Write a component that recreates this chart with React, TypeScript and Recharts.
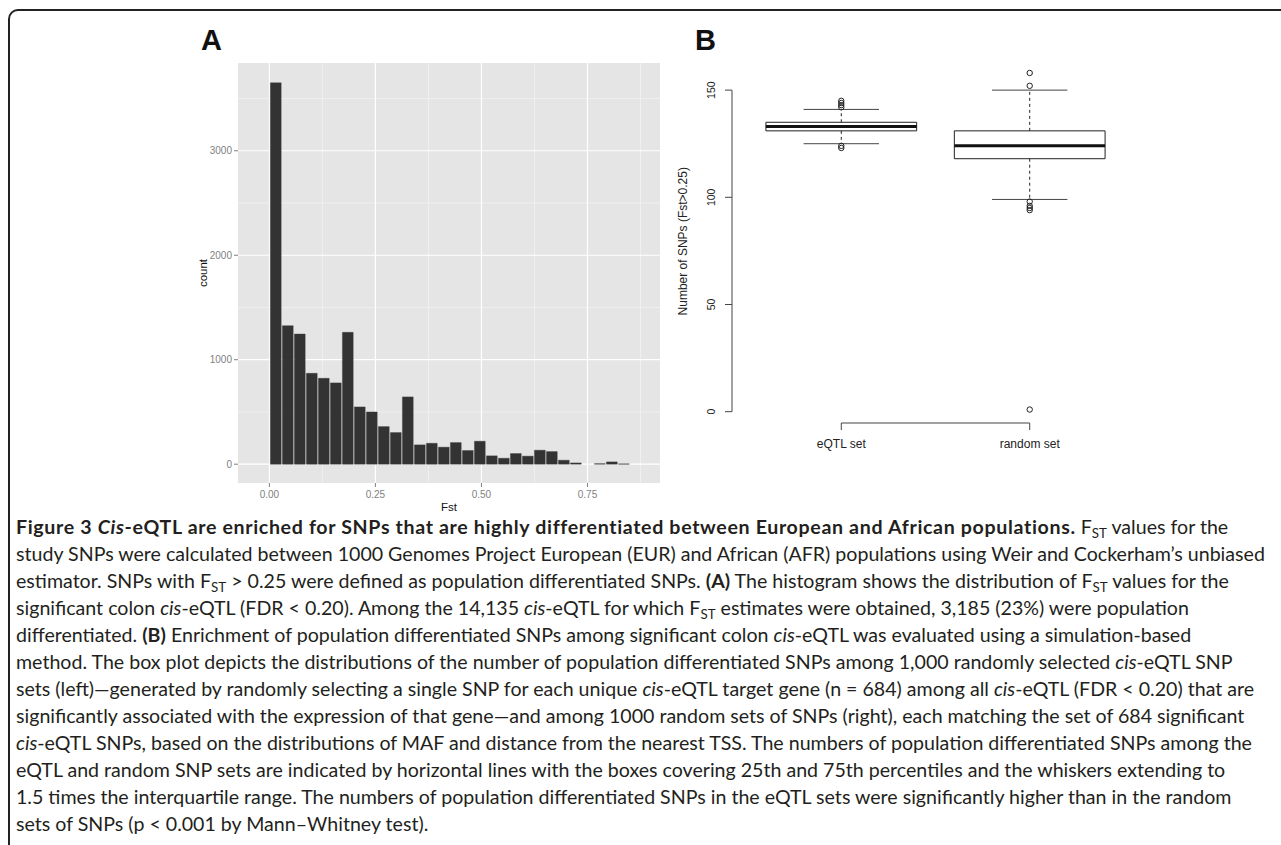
import {
  Bar,
  BarChart,
  CartesianGrid,
  ComposedChart,
  ReferenceArea,
  ReferenceLine,
  Scatter,
  XAxis,
  YAxis,
} from "recharts";

// Panel A: histogram of Fst (30 bins from 0)
const FST_COUNTS = [
  3650, 1326, 1246, 870, 822, 778, 1262, 548, 500, 360, 303, 644, 185, 200, 163,
  207, 131, 220, 80, 57, 102, 77, 134, 121, 38, 12, 0, 5, 22, 3,
];
const BIN_WIDTH = 0.0283;
const FST_TICKS = [0, 0.25, 0.5, 0.75];
const FST_MINOR = [0.125, 0.375, 0.625, 0.875];
const COUNT_TICKS = [0, 1000, 2000, 3000];
const COUNT_MINOR = [500, 1500, 2500, 3500];
const FST_DOMAIN = [-0.074, 0.921];
const COUNT_DOMAIN = [-180, 3840];

// Panel B: box plots of number of SNPs with Fst > 0.25
const GROUPS = ["eQTL set", "random set"];
const GROUP_POS = [1, 2];
const Q1 = [131, 118];
const MEDIAN = [133, 124];
const Q3 = [135, 131];
const WHISKER_LOW = [125, 99];
const WHISKER_HIGH = [141, 150];
const OUTLIERS = [
  [123, 124, 142, 143, 144, 145],
  [1, 94, 95, 96, 98, 152, 158],
];
const SNP_TICKS = [0, 50, 100, 150];
const SNP_DOMAIN = [-5.28, 164.28];
const POS_DOMAIN = [0.42, 2.58];

const histData = FST_COUNTS.map((count, i) => ({ x: (i + 0.5) * BIN_WIDTH, count }));
const outlierData = OUTLIERS.flatMap((vals, g) =>
  vals.map((v) => ({ x: GROUP_POS[g], y: v })),
);

const R_FONT = "Liberation Sans, Arial";
const GG_TICK = { fill: "#7f7f7f", fontSize: 10, fontFamily: R_FONT };

function RotatedTick({ x, y, payload }: any) {
  return (
    <text
      fill="#222"
      fontFamily={R_FONT}
      fontSize={10.5}
      textAnchor="middle"
      transform={`rotate(-90 ${x} ${y})`}
      x={x}
      y={y}
    >
      {payload.value}
    </text>
  );
}

function OpenCircle({ cx, cy }: any) {
  return <circle cx={cx} cy={cy} fill="none" r={2.7} stroke="#222" strokeWidth={1} />;
}

function Histogram() {
  const plotWidth = 422;
  const barSize = (BIN_WIDTH * plotWidth) / (FST_DOMAIN[1] - FST_DOMAIN[0]);
  return (
    <BarChart
      data={histData}
      height={499}
      margin={{ top: 43, right: 0, bottom: 0, left: 0 }}
      width={480}
    >
      <CartesianGrid
        fill="#e5e5e5"
        horizontalValues={COUNT_MINOR}
        stroke="#f2f2f2"
        strokeWidth={0.8}
        verticalValues={FST_MINOR}
      />
      <CartesianGrid
        horizontalValues={COUNT_TICKS}
        stroke="#ffffff"
        strokeWidth={1.2}
        verticalValues={FST_TICKS}
      />
      <XAxis
        allowDataOverflow
        axisLine={false}
        dataKey="x"
        domain={FST_DOMAIN}
        height={36}
        label={{
          value: "Fst",
          position: "insideBottom",
          offset: 8,
          fill: "#111",
          fontSize: 11.5,
          fontFamily: R_FONT,
        }}
        tick={GG_TICK}
        tickFormatter={(v: number) => v.toFixed(2)}
        tickLine={{ stroke: "#7f7f7f" }}
        tickMargin={3.5}
        tickSize={4}
        ticks={FST_TICKS}
        type="number"
      />
      <YAxis
        allowDataOverflow
        axisLine={false}
        domain={COUNT_DOMAIN}
        label={{
          value: "count",
          angle: -90,
          position: "insideLeft",
          offset: 23,
          fill: "#111",
          fontSize: 11.5,
          fontFamily: R_FONT,
          style: { textAnchor: "middle" },
        }}
        tick={GG_TICK}
        tickLine={{ stroke: "#7f7f7f" }}
        tickMargin={2}
        tickSize={4}
        ticks={COUNT_TICKS}
        type="number"
        width={58}
      />
      <Bar
        barSize={barSize}
        dataKey="count"
        fill="#333333"
        isAnimationActive={false}
        stroke="#3c3c3c"
        strokeWidth={0.4}
      />
    </BarChart>
  );
}

function BoxPlot() {
  return (
    <ComposedChart
      height={458}
      margin={{ top: 59.5, right: 20, bottom: 0, left: 0 }}
      width={499}
    >
      <XAxis
        allowDataOverflow
        axisLine={false}
        dataKey="x"
        domain={POS_DOMAIN}
        height={35}
        tick={{ fill: "#222", fontSize: 12, fontFamily: R_FONT }}
        tickFormatter={(v: number) => GROUPS[GROUP_POS.indexOf(v)] ?? ""}
        tickLine={{ stroke: "#444" }}
        tickMargin={9}
        tickSize={7}
        ticks={GROUP_POS}
        type="number"
      />
      <YAxis
        allowDataOverflow
        axisLine={false}
        dataKey="y"
        domain={SNP_DOMAIN}
        label={{
          value: "Number of SNPs (Fst>0.25)",
          angle: -90,
          position: "insideLeft",
          offset: 23,
          fill: "#222",
          fontSize: 12,
          fontFamily: R_FONT,
          style: { textAnchor: "middle" },
        }}
        tick={<RotatedTick />}
        tickLine={{ stroke: "#444" }}
        tickMargin={10}
        tickSize={7}
        ticks={SNP_TICKS}
        type="number"
        width={72}
      />
      {/* R-style axis lines: only over the tick range */}
      <ReferenceLine
        ifOverflow="visible"
        segment={[
          { x: POS_DOMAIN[0], y: SNP_TICKS[0] },
          { x: POS_DOMAIN[0], y: SNP_TICKS[SNP_TICKS.length - 1] },
        ]}
        stroke="#444"
        strokeWidth={1}
      />
      <ReferenceLine
        ifOverflow="visible"
        segment={[
          { x: GROUP_POS[0], y: SNP_DOMAIN[0] },
          { x: GROUP_POS[GROUP_POS.length - 1], y: SNP_DOMAIN[0] },
        ]}
        stroke="#444"
        strokeWidth={1}
      />
      {GROUP_POS.map((p, i) => (
        <ReferenceLine
          key={`wu-${i}`}
          segment={[
            { x: p, y: Q3[i] },
            { x: p, y: WHISKER_HIGH[i] },
          ]}
          stroke="#222"
          strokeDasharray="3 3"
        />
      ))}
      {GROUP_POS.map((p, i) => (
        <ReferenceLine
          key={`wl-${i}`}
          segment={[
            { x: p, y: Q1[i] },
            { x: p, y: WHISKER_LOW[i] },
          ]}
          stroke="#222"
          strokeDasharray="3 3"
        />
      ))}
      {GROUP_POS.map((p, i) => (
        <ReferenceLine
          key={`cu-${i}`}
          segment={[
            { x: p - 0.2, y: WHISKER_HIGH[i] },
            { x: p + 0.2, y: WHISKER_HIGH[i] },
          ]}
          stroke="#444"
        />
      ))}
      {GROUP_POS.map((p, i) => (
        <ReferenceLine
          key={`cl-${i}`}
          segment={[
            { x: p - 0.2, y: WHISKER_LOW[i] },
            { x: p + 0.2, y: WHISKER_LOW[i] },
          ]}
          stroke="#444"
        />
      ))}
      {GROUP_POS.map((p, i) => (
        <ReferenceArea
          fill="#ffffff"
          fillOpacity={1}
          key={`box-${i}`}
          stroke="#222"
          strokeWidth={1}
          x1={p - 0.4}
          x2={p + 0.4}
          y1={Q1[i]}
          y2={Q3[i]}
        />
      ))}
      {GROUP_POS.map((p, i) => (
        <ReferenceLine
          key={`med-${i}`}
          segment={[
            { x: p - 0.4, y: MEDIAN[i] },
            { x: p + 0.4, y: MEDIAN[i] },
          ]}
          stroke="#111"
          strokeWidth={3}
        />
      ))}
      <Scatter
        data={outlierData}
        dataKey="y"
        isAnimationActive={false}
        shape={<OpenCircle />}
      />
    </ComposedChart>
  );
}

const Fst = () => (
  <>
    F<sub style={{ fontSize: "0.68em", verticalAlign: "-0.3em", lineHeight: 0 }}>ST</sub>
  </>
);

const PANEL_LETTER = {
  position: "absolute" as const,
  top: 26,
  fontSize: 29,
  lineHeight: 1,
  fontWeight: 700,
  color: "#111",
};

export default function App() {
  return (
    <div
      style={{
        position: "absolute",
        left: 0,
        top: 0,
        width: 1281,
        height: 845,
        overflow: "hidden",
        background: "#fff",
        fontFamily: "Liberation Sans, Arial, sans-serif",
      }}
    >
      <div
        style={{
          position: "absolute",
          left: 8,
          top: 9,
          width: 1320,
          height: 900,
          border: "2px solid #222",
          borderTopLeftRadius: 10,
        }}
      />
      <div style={{ position: "absolute", left: 180, top: 20 }}>
        <Histogram />
      </div>
      <div style={{ position: "absolute", left: 660, top: 0 }}>
        <BoxPlot />
      </div>
      <div style={{ ...PANEL_LETTER, left: 201 }}>A</div>
      <div style={{ ...PANEL_LETTER, left: 695 }}>B</div>
      <div
        style={{
          position: "absolute",
          left: 16,
          top: 513,
          whiteSpace: "nowrap",
          fontFamily: "Lato, sans-serif",
          fontSize: 19.6,
          lineHeight: "27px",
          color: "#231f20",
        }}
      >
        <b style={{ letterSpacing: 0.65 }}>
          Figure 3 <i>Cis</i>-eQTL are enriched for SNPs that are highly differentiated between
          European and African populations.
        </b>{" "}
        <Fst /> values for the
        <br />
        study SNPs were calculated between 1000 Genomes Project European (EUR) and African (AFR)
        populations using Weir and Cockerham’s unbiased
        <br />
        estimator. SNPs with <Fst /> &gt; 0.25 were defined as population differentiated SNPs.{" "}
        <b>(A)</b> The histogram shows the distribution of <Fst /> values for the
        <br />
        significant colon <i>cis</i>-eQTL (FDR &lt; 0.20). Among the 14,135 <i>cis</i>-eQTL for
        which <Fst /> estimates were obtained, 3,185 (23%) were population
        <br />
        differentiated. <b>(B)</b> Enrichment of population differentiated SNPs among significant
        colon <i>cis</i>-eQTL was evaluated using a simulation-based
        <br />
        method. The box plot depicts the distributions of the number of population differentiated
        SNPs among 1,000 randomly selected <i>cis</i>-eQTL SNP
        <br />
        sets (left)—generated by randomly selecting a single SNP for each unique <i>cis</i>-eQTL
        target gene (n = 684) among all <i>cis</i>-eQTL (FDR &lt; 0.20) that are
        <br />
        significantly associated with the expression of that gene—and among 1000 random sets of
        SNPs (right), each matching the set of 684 significant
        <br />
        <i>cis</i>-eQTL SNPs, based on the distributions of MAF and distance from the nearest TSS.
        The numbers of population differentiated SNPs among the
        <br />
        eQTL and random SNP sets are indicated by horizontal lines with the boxes covering 25th and
        75th percentiles and the whiskers extending to
        <br />
        1.5 times the interquartile range. The numbers of population differentiated SNPs in the
        eQTL sets were significantly higher than in the random
        <br />
        sets of SNPs (p &lt; 0.001 by Mann–Whitney test).
      </div>
    </div>
  );
}
